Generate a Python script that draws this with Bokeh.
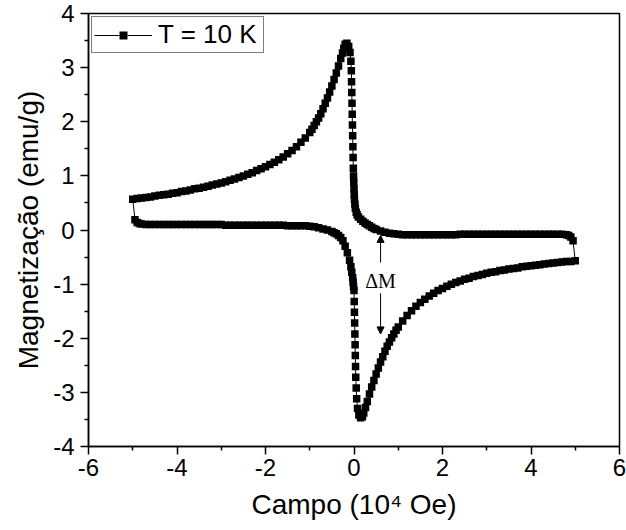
from bokeh.plotting import figure
from bokeh.models import Range1d, FixedTicker, Legend, LegendItem, Arrow, NormalHead, Label
from bokeh.embed import file_html
from bokeh.resources import INLINE

# ---------------- data ----------------
# increasing-field branch (from -5 to +5 x10^4 Oe)
field_up = [-4.95, -4.90, -4.85, -4.80, -4.70, -4.60, -4.50, -4.40, -4.30, -4.20,
            -4.10, -4.00, -3.90, -3.80, -3.70, -3.60, -3.50, -3.40, -3.30, -3.20,
            -3.10, -3.00, -2.90, -2.80, -2.70, -2.60, -2.50, -2.40, -2.30, -2.20,
            -2.10, -2.00, -1.90, -1.80, -1.70, -1.60, -1.50, -1.40, -1.30, -1.20,
            -1.10, -1.00, -0.90, -0.80, -0.70, -0.60, -0.50, -0.45, -0.40, -0.35,
            -0.30, -0.25, -0.20, -0.15, -0.10, -0.07, -0.05, -0.03, -0.02, -0.01,
            0.00, 0.005, 0.01, 0.015, 0.02, 0.025, 0.03, 0.035, 0.04, 0.05,
            0.06, 0.08, 0.11, 0.15, 0.19, 0.22, 0.26, 0.30, 0.35, 0.40,
            0.45, 0.50, 0.55, 0.60, 0.65, 0.70, 0.75, 0.80, 0.85, 0.90,
            0.95, 1.00, 1.10, 1.20, 1.30, 1.40, 1.50, 1.60, 1.70, 1.80,
            1.90, 2.00, 2.10, 2.20, 2.30, 2.40, 2.50, 2.60, 2.70, 2.80,
            2.90, 3.00, 3.10, 3.20, 3.30, 3.40, 3.50, 3.60, 3.70, 3.80,
            3.90, 4.00, 4.10, 4.20, 4.30, 4.40, 4.50, 4.60, 4.70, 4.80,
            4.90, 5.00]
mag_up = [0.19, 0.14, 0.12, 0.11, 0.10, 0.10, 0.10, 0.10, 0.10, 0.10,
          0.10, 0.10, 0.10, 0.10, 0.10, 0.10, 0.10, 0.10, 0.10, 0.10,
          0.10, 0.10, 0.09, 0.09, 0.09, 0.09, 0.09, 0.09, 0.09, 0.09,
          0.09, 0.09, 0.09, 0.09, 0.09, 0.09, 0.08, 0.08, 0.08, 0.08,
          0.08, 0.07, 0.06, 0.04, 0.02, 0.00, -0.03, -0.05, -0.07, -0.10,
          -0.14, -0.20, -0.30, -0.42, -0.56, -0.68, -0.78, -0.88, -0.96, -1.04,
          -1.12, -1.32, -1.52, -1.72, -1.92, -2.12, -2.32, -2.52, -2.72, -2.92,
          -3.12, -3.30, -3.42, -3.47, -3.45, -3.38, -3.28, -3.17, -3.03, -2.90,
          -2.78, -2.66, -2.55, -2.44, -2.34, -2.24, -2.15, -2.07, -1.99, -1.92,
          -1.85, -1.79, -1.68, -1.58, -1.49, -1.41, -1.34, -1.28, -1.22, -1.17,
          -1.12, -1.08, -1.04, -1.00, -0.97, -0.94, -0.91, -0.89, -0.86, -0.84,
          -0.82, -0.80, -0.78, -0.77, -0.75, -0.74, -0.72, -0.71, -0.70, -0.68,
          -0.67, -0.66, -0.65, -0.64, -0.63, -0.62, -0.61, -0.60, -0.59, -0.58,
          -0.58, -0.57]

# decreasing-field branch (from +5 to -5 x10^4 Oe)
field_down = [4.95, 4.90, 4.85, 4.80, 4.70, 4.60, 4.50, 4.40, 4.30, 4.20,
              4.10, 4.00, 3.90, 3.80, 3.70, 3.60, 3.50, 3.40, 3.30, 3.20,
              3.10, 3.00, 2.90, 2.80, 2.70, 2.60, 2.50, 2.40, 2.30, 2.20,
              2.10, 2.00, 1.90, 1.80, 1.70, 1.60, 1.50, 1.40, 1.30, 1.20,
              1.10, 1.00, 0.90, 0.80, 0.70, 0.60, 0.50, 0.45, 0.40, 0.35,
              0.30, 0.25, 0.20, 0.15, 0.10, 0.07, 0.05, 0.03, 0.02, 0.01,
              0.005, 0.00, -0.005, -0.01, -0.015, -0.02, -0.025, -0.03, -0.035, -0.04,
              -0.045, -0.05, -0.055, -0.06, -0.07, -0.09, -0.12, -0.16, -0.20, -0.23,
              -0.26, -0.30, -0.35, -0.40, -0.45, -0.50, -0.55, -0.60, -0.65, -0.70,
              -0.75, -0.80, -0.85, -0.90, -0.95, -1.00, -1.10, -1.20, -1.30, -1.40,
              -1.50, -1.60, -1.70, -1.80, -1.90, -2.00, -2.10, -2.20, -2.30, -2.40,
              -2.50, -2.60, -2.70, -2.80, -2.90, -3.00, -3.10, -3.20, -3.30, -3.40,
              -3.50, -3.60, -3.70, -3.80, -3.90, -4.00, -4.10, -4.20, -4.30, -4.40,
              -4.50, -4.60, -4.70, -4.80, -4.90, -5.00]
mag_down = [-0.20, -0.13, -0.10, -0.09, -0.08, -0.08, -0.08, -0.08, -0.08, -0.08,
            -0.08, -0.08, -0.08, -0.08, -0.08, -0.08, -0.08, -0.08, -0.08, -0.08,
            -0.08, -0.08, -0.08, -0.08, -0.08, -0.08, -0.08, -0.08, -0.09, -0.09,
            -0.09, -0.09, -0.09, -0.09, -0.09, -0.09, -0.09, -0.09, -0.09, -0.09,
            -0.09, -0.08, -0.07, -0.06, -0.04, -0.02, 0.01, 0.03, 0.05, 0.08,
            0.10, 0.13, 0.16, 0.20, 0.24, 0.28, 0.33, 0.40, 0.48, 0.57,
            0.66, 0.76, 0.88, 1.00, 1.14, 1.34, 1.54, 1.74, 1.94, 2.14,
            2.34, 2.54, 2.74, 2.94, 3.12, 3.28, 3.39, 3.45, 3.43, 3.36,
            3.27, 3.17, 3.03, 2.90, 2.78, 2.66, 2.55, 2.44, 2.34, 2.24,
            2.15, 2.07, 2.00, 1.93, 1.86, 1.80, 1.70, 1.62, 1.54, 1.47,
            1.41, 1.35, 1.30, 1.25, 1.21, 1.17, 1.13, 1.10, 1.06, 1.03,
            1.00, 0.97, 0.94, 0.92, 0.89, 0.87, 0.85, 0.83, 0.81, 0.79,
            0.77, 0.76, 0.74, 0.72, 0.71, 0.69, 0.68, 0.66, 0.65, 0.64,
            0.63, 0.61, 0.60, 0.59, 0.58, 0.57]

x_ticks = [-6, -4, -2, 0, 2, 4, 6]
x_tick_labels = ["-6", "-4", "-2", "0", "2", "4", "6"]
x_minor = [-5, -3, -1, 1, 3, 5]
y_ticks = [-4, -3, -2, -1, 0, 1, 2, 3, 4]
y_tick_labels = ["-4", "-3", "-2", "-1", "0", "1", "2", "3", "4"]
y_minor = [-3.5, -2.5, -1.5, -0.5, 0.5, 1.5, 2.5, 3.5]

legend_label = "T = 10 K"
dm_text = "\u0394M"
dm_x = 0.6
dm_text_y = -0.94
arrow_up_y = (-0.60, -0.10)
arrow_down_y = (-1.17, -1.92)

# ---------------- figure ----------------
p = figure(width=626, height=530, output_backend="svg", toolbar_location=None,
           x_range=Range1d(-6, 6), y_range=Range1d(-4, 4),
           min_border_left=88, min_border_right=7, min_border_top=13, min_border_bottom=84)
p.grid.visible = False
p.outline_line_color = "black"
p.outline_line_width = 1.5
p.background_fill_color = "white"
p.border_fill_color = "white"

# white halo (drawn first, invisible on the white plot) used only to open gaps in the key
halo_r = p.scatter(field_up[:1], mag_up[:1], marker="square", size=14,
                   fill_color="white", line_color=None)

loop_x = field_up + field_down + field_up[:1]
loop_y = mag_up + mag_down + mag_up[:1]
line_r = p.line(loop_x, loop_y, line_color="black", line_width=1)
sq_r = p.scatter(field_up + field_down, mag_up + mag_down, marker="square", size=7.5,
                 fill_color="black", line_color="black", line_width=0)

for ax, ticks, labels, minor in ((p.xaxis[0], x_ticks, x_tick_labels, x_minor),
                                 (p.yaxis[0], y_ticks, y_tick_labels, y_minor)):
    ax.ticker = FixedTicker(ticks=ticks, minor_ticks=minor)
    ax.major_label_overrides = {t: s for t, s in zip(ticks, labels)}
    ax.axis_line_color = "black"
    ax.axis_line_width = 1.5
    ax.major_tick_line_color = "black"
    ax.major_tick_line_width = 1.5
    ax.major_tick_out = 8
    ax.major_tick_in = 0
    ax.minor_tick_line_color = "black"
    ax.minor_tick_line_width = 1.5
    ax.minor_tick_out = 4
    ax.minor_tick_in = 0
    ax.major_label_text_font = "Liberation Sans"
    ax.major_label_text_font_size = "24px"
    ax.major_label_text_color = "black"
    ax.axis_label_text_font = "Liberation Sans"
    ax.axis_label_text_font_size = "28px"
    ax.axis_label_text_font_style = "normal"
    ax.axis_label_text_color = "black"

p.xaxis[0].axis_label = "Campo (10\u2074 Oe)"
p.yaxis[0].axis_label = "Magnetiza\u00e7\u00e3o (emu/g)"
p.xaxis[0].major_label_standoff = 4
p.xaxis[0].axis_label_standoff = 10
p.yaxis[0].major_label_standoff = 6
p.yaxis[0].axis_label_standoff = 6

legend = Legend(items=[LegendItem(label=legend_label, renderers=[line_r, halo_r, sq_r], index=0)],
                location="top_left", margin=3, padding=2, spacing=0,
                glyph_width=58, glyph_height=20, label_standoff=6, label_width=103,
                border_line_color="black", border_line_width=1,
                label_text_font="Liberation Sans", label_text_font_size="26px",
                label_text_color="black", background_fill_alpha=1)
p.add_layout(legend)

p.add_layout(Label(x=dm_x, y=dm_text_y, text=dm_text, text_font="Liberation Serif",
                   text_font_size="20px", text_align="center", text_baseline="middle",
                   text_color="black"))
p.add_layout(Arrow(x_start=dm_x, y_start=arrow_up_y[0], x_end=dm_x, y_end=arrow_up_y[1],
                   line_color="black", line_width=1,
                   end=NormalHead(size=7, fill_color="black", line_color="black", line_width=1)))
p.add_layout(Arrow(x_start=dm_x, y_start=arrow_down_y[0], x_end=dm_x, y_end=arrow_down_y[1],
                   line_color="black", line_width=1,
                   end=NormalHead(size=7, fill_color="black", line_color="black", line_width=1)))

open("out.html", "w").write(file_html(p, INLINE))
